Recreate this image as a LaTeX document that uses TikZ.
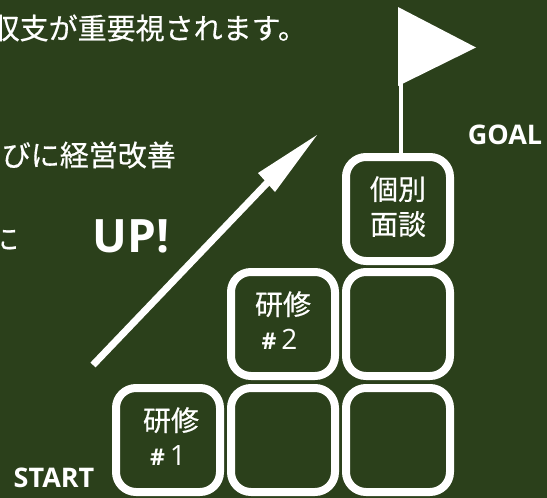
\documentclass[tikz,border=0pt]{standalone}
\usepackage{fontspec}
\setmainfont{Noto Sans CJK JP}[FakeBold=0.5]
\newfontfamily\latinbold{Open Sans}[BoldFont={* Bold}]
\definecolor{boardgreen}{RGB}{43,64,27}
\tikzset{
  stepbox/.style={draw=white,line width=8pt,rounded corners=20pt,minimum size=104pt,inner sep=0pt,
    text=white,align=center,font=\fontsize{28}{35}\selectfont},
  bodytext/.style={text=white,inner sep=0pt,font=\fontsize{29}{34}\selectfont},
  marktext/.style={text=white,inner sep=0pt,font=\latinbold\bfseries\fontsize{27}{30}\selectfont},
}
\newcommand{\hashnum}[1]{{\latinbold\bfseries\fontsize{23}{30}\selectfont\#}\,{\latinbold\fontsize{28}{34}\selectfont #1}\rule[-7pt]{0pt}{1pt}}
\begin{document}
\begin{tikzpicture}[>=latex,x=1pt,y=-1pt]
\useasboundingbox(0,0)rectangle(547,498);
\clip(0,0)rectangle(547,498);
\fill[boardgreen](0,0)rectangle(547,498);
% text cut by the left edge
\node[bodytext,anchor=east] (line1) at (307,28) {収支が重要視されます。};
\node[bodytext,anchor=east] (line2) at (176,155) {びに経営改善};
\node[bodytext,anchor=east] (line3) at (19,239) {に};
% steps
\node[stepbox] (s1) at (168,440) {\hspace*{6pt}研修\\\hashnum{1}};
\node[stepbox] (s2) at (283,440) {};
\node[stepbox] (s3) at (398,440) {};
\node[stepbox] (s4) at (283,324) {研修\\\hashnum{2}\hspace*{7pt}};
\node[stepbox] (s5) at (398,324) {};
\node[stepbox] (s6) at (398,209) {個別\\面談\rule[-7pt]{0pt}{1pt}};
% flag
\coordinate (poletop) at (400.5,60);
\draw[white,line width=4pt] (s6.north -| poletop)--(poletop);
\fill[white](398,7)--(476,47.5)--(398,86)--cycle;
% arrow
\coordinate (a0) at (93,365);
\coordinate (a1) at (268,182);
\coordinate (a2) at (317,135);
\draw[white,line width=7pt] (a0)--(a1);
\fill[white](a2)--(258,173)--(275,192)--cycle;
\node[text=white,inner sep=0pt,font=\latinbold\bfseries\fontsize{46}{50}\selectfont] (up) at (131,236) {UP!};
\node[marktext] (goal) at (505,135) {GOAL};
\node[marktext] (start) at (54,478) {START};
\end{tikzpicture}
\end{document}
